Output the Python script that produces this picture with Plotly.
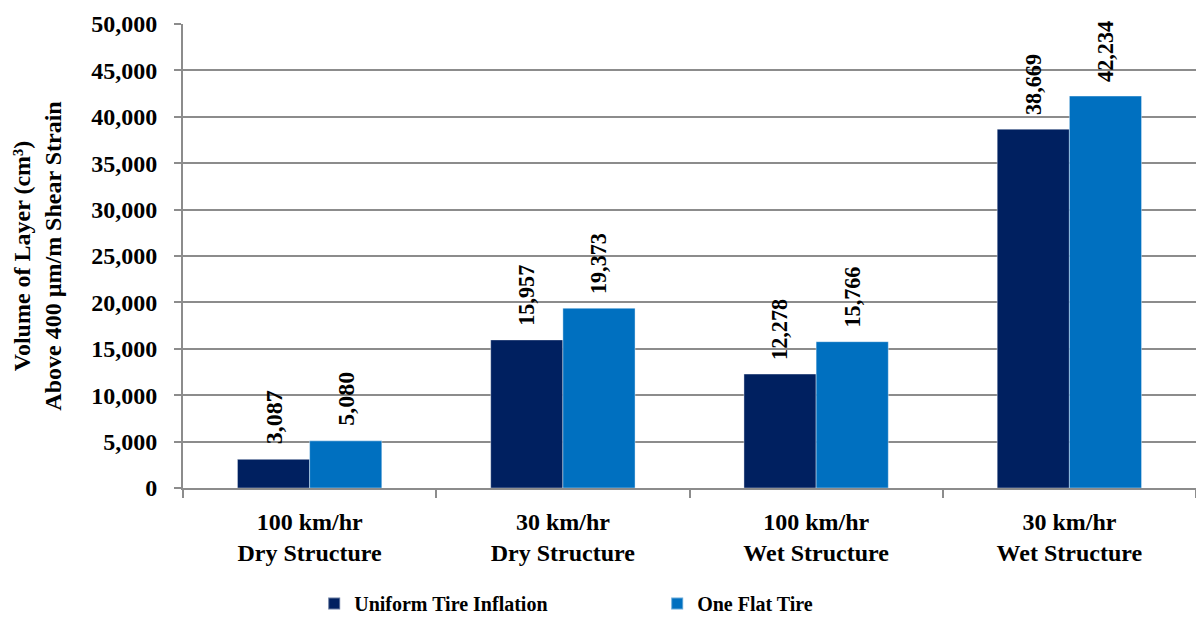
import plotly.graph_objects as go

categories = ["100 km/hr<br>Dry Structure", "30 km/hr<br>Dry Structure",
              "100 km/hr<br>Wet Structure", "30 km/hr<br>Wet Structure"]
uniform = [3087, 15957, 12278, 38669]
flat = [5080, 19373, 15766, 42234]
series_names = ["Uniform Tire Inflation", "One Flat Tire"]
colors = ["#002060", "#0070C0"]
y_ticks = list(range(0, 50001, 5000))

FONT = "Liberation Serif"

def f(size):
    return dict(family=FONT, size=size, color="black", weight="bold")

fig = go.Figure()
for name, vals, col in zip(series_names, [uniform, flat], colors):
    fig.add_trace(go.Bar(
        x=categories, y=vals, name=name,
        marker=dict(color=col, line=dict(color="rgba(255,255,255,0.4)", width=1)),
        text=["\u00a0\u00a0" + f"{v:,}" for v in vals], textposition="outside", textangle=-90,
        textfont=f(24),
        cliponaxis=False,
    ))

fig.update_layout(
    width=1196, height=623,
    paper_bgcolor="white", plot_bgcolor="white",
    barmode="group", bargap=0.43, bargroupgap=0,
    margin=dict(l=183, r=0, t=24, b=131),
    font=f(22),
    showlegend=True,
    legend=dict(orientation="h", x=0.1295, xanchor="left", y=-0.25, yanchor="middle",
                entrywidth=298, entrywidthmode="pixels",
                font=f(20), itemsizing="constant", traceorder="normal"),
)
fig.update_xaxes(
    type="category", showline=True, linecolor="#8c8c8c", linewidth=2,
    ticks="outside", tickson="boundaries", ticklen=8, tickcolor="#8c8c8c", tickwidth=2,
    tickfont=f(24), ticklabelstandoff=11, showgrid=False, automargin=False,
)
fig.update_yaxes(
    range=[0, 50000], tickvals=y_ticks, tickformat=",",
    showline=True, linecolor="#8c8c8c", linewidth=2,
    ticks="outside", ticklen=7, tickcolor="#8c8c8c", tickwidth=2,
    showgrid=True, gridcolor="#8c8c8c", gridwidth=2,
    tickfont=f(24),
    ticklabelstandoff=12,
    title=dict(text="Volume of Layer (cm³)<br>Above 400 µm/m Shear Strain",
               font=f(24), standoff=23),
    zeroline=False, automargin=False,
)

page_fix = (
    "document.documentElement.style.margin='0';"
    "document.body.style.margin='0';"
    "var gd=document.getElementById('{plot_id}');"
    "if(gd&&gd.parentElement){gd.parentElement.style.fontSize='0';gd.parentElement.style.lineHeight='0';}"
    "document.documentElement.style.overflow='hidden';"
    "document.body.style.overflow='hidden';"
)

fig.write_html("out.html", config={"displayModeBar": False}, post_script=page_fix)
